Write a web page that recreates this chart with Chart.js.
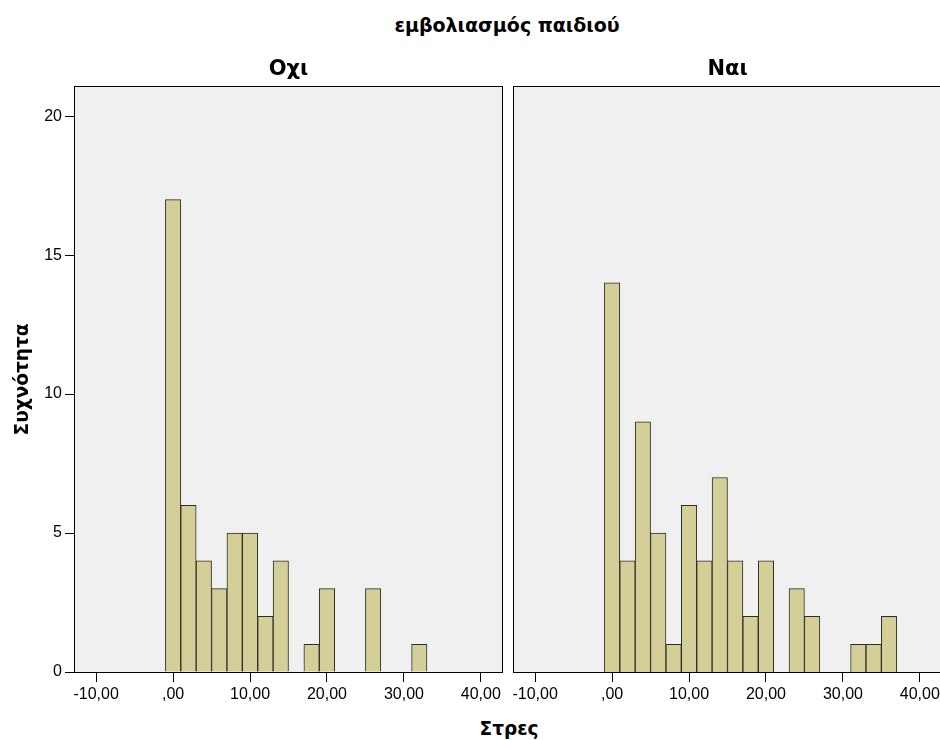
<!DOCTYPE html>
<html>
<head>
<meta charset="utf-8">
<script src="https://cdn.jsdelivr.net/npm/chart.js@4.4.1/dist/chart.umd.min.js"></script>
<style>
  html, body { margin: 0; padding: 0; background: #fff; overflow: hidden; }
  #wrap { position: relative; width: 940px; height: 740px; overflow: hidden; }
  canvas { position: absolute; }
  .lbl { position: absolute; font-family: "DejaVu Sans", sans-serif; font-weight: bold; line-height: 20px; color: #000; white-space: nowrap; transform: translateX(-50%); }
</style>
</head>
<body>
<div id="wrap">
  <div class="lbl" style="left:507px; top:15px; font-size:19px;">εμβολιασμός παιδιού</div>
  <canvas id="panel_ochi" width="510" height="657" style="left:0px; top:45px;"></canvas>
  <canvas id="panel_nai" width="445" height="657" style="left:505px; top:45px;"></canvas>
  <div class="lbl" style="left:509px; top:719px; font-size:18.5px;">Στρες</div>
</div>
<script>
// Κέντρα κλάσεων (Στρες), πλάτος κλάσης 2
const binCenters = [0, 2, 4, 6, 8, 10, 12, 14, 16, 18, 20, 22, 24, 26, 28, 30, 32, 34, 36]

// Συχνότητες ανά ομάδα
const countsOchi = [17, 6, 4, 3, 5, 5, 2, 4, 0, 1, 3, 0, 0, 3, 0, 0, 1, 0, 0]
const countsNai = [14, 4, 9, 5, 1, 6, 4, 7, 4, 2, 4, 0, 3, 2, 0, 0, 1, 1, 2]

// Ετικέτες αξόνων
const xTicks = [-10, 0, 10, 20, 30, 40]
const yTicks = [0, 5, 10, 15, 20]

const xMin = -12.75
const xMax = 42.75
const yMax = 21.05

// Γκρι φόντο και πλαίσιο γύρω από την περιοχή σχεδίασης.
const panelBox = {
  id: 'panelBox',
  beforeDraw(chart) {
    const a = chart.chartArea
    const ctx = chart.ctx
    ctx.save()
    ctx.fillStyle = '#F0F0F0'
    ctx.fillRect(a.left, a.top, a.right - a.left, a.bottom - a.top)
    ctx.restore()
  },
  afterDraw(chart) {
    const a = chart.chartArea
    const ctx = chart.ctx
    ctx.save()
    ctx.strokeStyle = '#000'
    ctx.lineWidth = 1
    const l = Math.round(a.left) - 0.5
    const t = Math.round(a.top) - 0.5
    const r = Math.round(a.right) + 0.5
    const b = Math.round(a.bottom) + 0.5
    ctx.strokeRect(l, t, r - l, b - t)
    ctx.restore()
  }
}

function fmtX(v) {
  if (v === 0) return ',00'
  return v.toFixed(2).replace('.', ',')
}

function makePanel(id, title, counts, showY, pad) {

  const points = binCenters.map((c, i) => ({ x: c, y: counts[i] }))

  return new Chart(document.getElementById(id), {

    type: 'bar',

    data: {
      datasets: [{
        label: title,
        data: points,
        backgroundColor: '#D4CF98',
        borderColor: '#2e2e26',
        borderWidth: 1,
        barPercentage: 1,
        categoryPercentage: 1
      }]
    },

    options: {
      responsive: false,
      animation: false,
      layout: { padding: pad },
      plugins: {
        legend: { display: false },
        tooltip: { enabled: false },
        title: {
          display: true,
          text: title,
          fullSize: false,
          color: '#000',
          font: { family: 'DejaVu Sans', weight: 'bold', size: 21 },
          lineHeight: 1.2,
          padding: { top: 12.4, bottom: 4.4 }
        }
      },
      scales: {
        x: {
          type: 'linear',
          offset: false,
          min: xMin,
          max: xMax,
          afterBuildTicks: (scale) => { scale.ticks = xTicks.map(v => ({ value: v })) },
          afterFit: (scale) => { scale.height = 30 },
          grid: { offset: false, drawOnChartArea: false, drawTicks: true, tickLength: 10, color: '#000' },
          border: { display: false },
          ticks: {
            color: '#000',
            maxRotation: 0,
            autoSkip: false,
            padding: 3,
            font: { family: 'Liberation Sans', size: 16 },
            callback: (v) => fmtX(v)
          }
        },
        y: {
          display: showY,
          min: 0,
          max: yMax,
          afterBuildTicks: (scale) => { scale.ticks = yTicks.map(v => ({ value: v })) },
          afterFit: (scale) => { scale.width = showY ? 75 : 0 },
          grid: { drawOnChartArea: false, drawTicks: true, tickLength: 10, color: '#000' },
          border: { display: false },
          title: {
            display: true,
            text: 'Συχνότητα',
            color: '#000',
            font: { family: 'DejaVu Sans', weight: 'bold', size: 18.5 },
            padding: { top: 12, bottom: 0 }
          },
          ticks: {
            color: '#000',
            padding: 3,
            font: { family: 'Liberation Sans', size: 16 }
          }
        }
      }
    },

    plugins: [panelBox]

  })

}

let grafico_ochi = makePanel('panel_ochi', 'Οχι', countsOchi, true, { left: 0, right: 8, top: 0, bottom: 0 })
let grafico_nai = makePanel('panel_nai', 'Ναι', countsNai, false, { left: 9, right: 9, top: 0, bottom: 0 })
</script>
</body>
</html>
